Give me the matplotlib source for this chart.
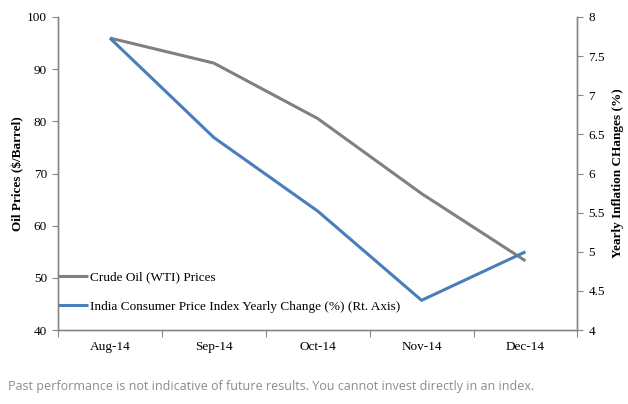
import matplotlib
matplotlib.use("Agg")
import matplotlib.pyplot as plt
import numpy as np

# data (month-end values)
months = ["Aug-14", "Sep-14", "Oct-14", "Nov-14", "Dec-14"]
oil_prices = [95.96, 91.16, 80.54, 66.15, 53.27]
india_cpi = [7.73, 6.46, 5.52, 4.38, 5.00]

oil_color = "#808080"
cpi_color = "#4a7ebb"
axis_color = "#868686"

plt.rcParams["font.family"] = ["Liberation Serif", "DejaVu Serif"]

fig = plt.figure(figsize=(6.28, 4.04), dpi=100)
ax = fig.add_axes([0.0924, 0.183, 0.827, 0.775])
ax2 = ax.twinx()

x = np.arange(len(months))
l1, = ax.plot(x, oil_prices, color=oil_color, lw=2.2, solid_capstyle="butt")
l2, = ax2.plot(x, india_cpi, color=cpi_color, lw=2.2, solid_capstyle="butt")

ax.set_xlim(-0.5, len(months) - 0.5)
ax.set_ylim(40, 100)
ax.set_yticks(np.arange(40, 101, 10))
ax2.set_ylim(4, 8)
ax2.set_yticks(np.arange(4, 8.01, 0.5))
ax2.set_yticklabels(["4", "4.5", "5", "5.5", "6", "6.5", "7", "7.5", "8"])

# category ticks at boundaries, labels centered
ax.set_xticks(np.arange(-0.5, len(months), 1.0))
ax.set_xticklabels([])
ax.set_xticks(x, minor=True)
ax.set_xticklabels(months, minor=True)
ax.tick_params(axis="x", which="minor", length=0, pad=8, labelsize=9.5)
ax.tick_params(axis="x", which="major", length=5, color=axis_color)
ax.tick_params(axis="y", length=4, color=axis_color, labelsize=9.5, pad=4)
ax2.tick_params(axis="y", length=4, color=axis_color, labelsize=9.5, pad=4)

for a in (ax, ax2):
    a.spines["top"].set_visible(False)
    for s in ("left", "right", "bottom"):
        a.spines[s].set_color(axis_color)
        a.spines[s].set_linewidth(1.0)

ax.set_ylabel("Oil Prices ($/Barrel)", fontsize=9.5, fontweight="bold", labelpad=2)
ax2.set_ylabel("Yearly Inflation CHanges (%)", fontsize=9.5, fontweight="bold", labelpad=5)

leg = ax.legend([l1, l2], ["Crude Oil (WTI) Prices",
                           "India Consumer Price Index Yearly Change (%) (Rt. Axis)"],
                loc="lower left", bbox_to_anchor=(0.0, 0.055), frameon=False,
                fontsize=9.5, handlelength=2.3, handletextpad=0.1,
                labelspacing=1.3, borderaxespad=0.0, borderpad=0.0)

fig.text(0.012, 0.043, "Past performance is not indicative of future results. You cannot invest directly in an index.",
         fontsize=9, color="#8c8c8c", family=["Open Sans", "DejaVu Sans"], va="center")

fig.savefig("out.png", dpi=100)
